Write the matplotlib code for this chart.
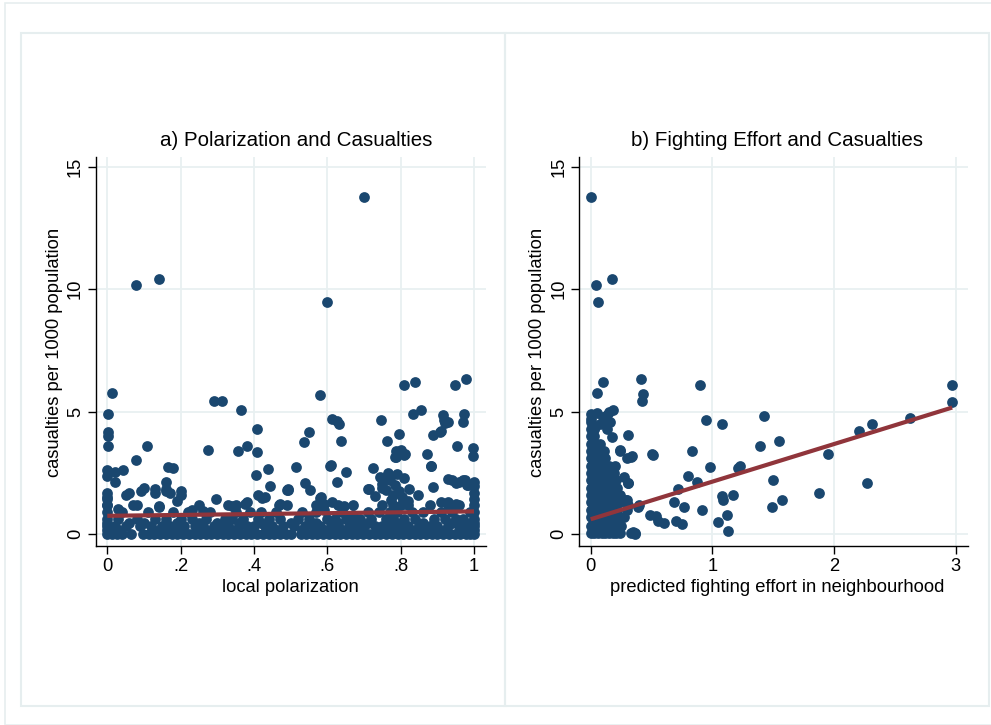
import matplotlib
matplotlib.use("Agg")
import matplotlib.pyplot as plt
from matplotlib.patches import Rectangle

plt.rcParams['font.family'] = ['Liberation Sans', 'DejaVu Sans']

NAVY = '#1a476f'
MAROON = '#90353b'
GRID = '#e8f0f1'
FRAME = '#e6eeef'

# ---- panel a: local polarization vs casualties ----
# scattered observations above the main band
pol_x = [0.700, 0.077, 0.141, 0.600, 0.014, 0.809, 0.839, 0.948, 0.978, 0.580, 0.291, 0.314,
         0.003, 0.003, 0.003, 0.003, 0.109, 0.077, 0.000, 0.021, 0.044, 0.021, 0.000,
         0.166, 0.178, 0.160, 0.274, 0.365, 0.407, 0.357, 0.380, 0.407, 0.405, 0.439, 0.514,
         0.444, 0.492, 0.539, 0.553, 0.537, 0.549, 0.614, 0.626, 0.633, 0.637, 0.607, 0.651, 0.626,
         0.580, 0.725, 0.712, 0.746, 0.762, 0.796, 0.787, 0.801, 0.812, 0.787, 0.834, 0.855,
         0.887, 0.907, 0.919, 0.916, 0.930, 0.873, 0.882, 0.887, 0.953, 0.969, 0.974, 0.998, 0.998,
         0.848, 0.824, 0.140, 0.130, 0.160, 0.100, 0.060, 0.050, 0.170, 0.200, 0.296, 0.380, 0.350,
         0.410, 0.430, 0.470, 0.570, 0.590, 0.630, 0.159, 0.092, 0.130, 0.000, 0.000, 0.000,
         0.190, 0.200, 0.030, 0.080, 0.140, 0.230, 0.260, 0.375, 0.421, 0.469, 0.339, 0.489,
         0.609, 0.493, 0.714, 0.748, 0.748, 0.582, 0.614, 0.646, 0.590, 0.670, 0.921, 0.910, 0.785,
         0.808, 0.883, 0.930, 0.950, 0.970, 0.980, 0.745, 0.750, 0.760, 0.770, 0.780, 0.785, 0.795,
         0.805, 0.765, 0.775, 0.810, 0.790, 0.940, 0.960, 0.975, 0.985, 0.930, 0.950, 0.910,
         1.000, 1.000, 1.000, 1.000, 0.000, 0.820, 0.730]
pol_y = [13.77, 10.18, 10.42, 9.47, 5.78, 6.07, 6.23, 6.11, 6.32, 5.68, 5.45, 5.43,
         4.89, 4.16, 4.00, 3.59, 3.59, 3.02, 2.61, 2.53, 2.61, 2.12, 2.36,
         2.75, 2.69, 2.12, 3.43, 5.05, 4.30, 3.39, 3.59, 3.36, 2.40, 2.66, 2.75,
         1.95, 1.82, 2.09, 1.82, 3.75, 4.18, 4.71, 4.61, 4.48, 3.80, 2.80, 2.54, 2.12,
         1.48, 2.70, 1.84, 4.66, 3.80, 4.07, 3.39, 3.45, 3.29, 3.15, 4.89, 5.07,
         4.03, 4.16, 4.66, 4.85, 4.57, 3.29, 2.80, 1.93, 3.62, 4.57, 4.92, 3.52, 3.21,
         1.61, 1.84, 1.15, 1.85, 1.85, 1.90, 1.70, 1.60, 1.70, 1.75, 1.45, 1.30, 1.20,
         1.60, 1.50, 1.25, 1.20, 1.25, 1.20, 1.78, 1.75, 1.68, 1.70, 1.50, 1.20,
         1.35, 1.58, 1.02, 1.20, 1.13, 1.00, 0.95, 1.24, 1.47, 1.20, 1.16, 1.82,
         2.81, 1.84, 1.86, 2.30, 1.90, 1.50, 1.30, 1.15, 1.00, 0.80, 4.55, 4.20, 3.16,
         3.25, 2.80, 2.25, 2.10, 2.20, 2.00, 2.35, 2.05, 1.80, 2.20, 1.60, 2.00, 1.75,
         1.50, 2.50, 1.40, 2.30, 2.45, 2.20, 2.15, 2.20, 2.00, 1.30, 1.25, 1.30,
         1.45, 1.70, 1.95, 2.15, 1.45, 1.35, 1.55]

# rows of the dense band near zero
pol_band_y0 = [0.0, 0.012, 0.026, 0.04, 0.066, 0.098, 0.113, 0.128, 0.145, 0.16, 0.176, 0.19,
               0.207, 0.222, 0.238, 0.252, 0.268, 0.284, 0.3, 0.315, 0.33, 0.346, 0.362, 0.377,
               0.392, 0.408, 0.424, 0.44, 0.455, 0.47, 0.487, 0.5, 0.527, 0.542, 0.558, 0.573,
               0.589, 0.604, 0.62, 0.636, 0.651, 0.667, 0.682, 0.698, 0.714, 0.729, 0.745, 0.76,
               0.776, 0.792, 0.807, 0.823, 0.838, 0.854, 0.87, 0.885, 0.9, 0.916, 0.932, 0.948,
               0.963, 0.978, 0.99, 1.0]
pol_band_y02 = [0.0, 0.03, 0.14, 0.18, 0.27, 0.34, 0.39, 0.46, 0.53, 0.59, 0.64, 0.69, 0.74,
                0.78, 0.84, 0.87, 0.92, 0.97, 1.0]
pol_band_y03 = [0.0, 0.02, 0.05, 0.09, 0.12, 0.15, 0.17, 0.19, 0.21, 0.24, 0.26, 0.29, 0.31,
                0.33, 0.36, 0.38, 0.40, 0.43, 0.45, 0.48, 0.51, 0.54, 0.56, 0.58, 0.61, 0.63,
                0.66, 0.68, 0.70, 0.73, 0.75, 0.77, 0.80, 0.82, 0.85, 0.88, 0.90, 0.93, 0.96,
                0.98, 1.0]
pol_band_y05 = [0.0, 0.06, 0.10, 0.19, 0.25, 0.30, 0.36, 0.42, 0.50, 0.57, 0.63, 0.67, 0.71,
                0.77, 0.79, 0.86, 0.94, 0.99, 1.0]
pol_band_y06 = [0.0, 0.03, 0.08, 0.13, 0.16, 0.2, 0.23, 0.27, 0.32, 0.34, 0.37, 0.41, 0.44,
                0.47, 0.52, 0.55, 0.60, 0.62, 0.65, 0.69, 0.72, 0.76, 0.78, 0.81, 0.84, 0.89,
                0.92, 0.95, 0.97, 1.0]
pol_band_y09 = [0.0, 0.04, 0.11, 0.18, 0.22, 0.28, 0.35, 0.39, 0.42, 0.46, 0.53, 0.57, 0.64,
                0.71, 0.74, 0.77, 0.79, 0.83, 0.86, 0.91, 0.94, 0.99, 1.0]
pol_band_y12 = [0.0, 0.07, 0.25, 0.33, 0.49, 0.67, 0.75, 0.78, 0.80, 0.82, 0.88, 0.93, 0.96, 1.0]
pol_band_levels = [0.02, 0.17, 0.32, 0.47, 0.62, 0.9, 1.18]

pol_fit_x = [0.0, 1.0]
pol_fit_y = [0.75, 0.93]

# ---- panel b: predicted fighting effort vs casualties ----
eff_x = [0.0025, 0.041, 0.173, 0.058, 0.099, 0.054, 0.416, 0.427, 0.419, 0.90, 2.97, 2.966,
         1.426, 0.947, 1.076, 2.624, 2.309, 2.202, 1.55, 1.391, 1.953, 0.83, 0.501, 0.98,
         1.227, 1.213, 0.797, 0.871, 1.496, 2.268, 0.72, 1.172, 1.076, 1.09, 1.878, 1.574,
         0.684, 0.769, 0.917, 1.492, 1.117, 1.048, 1.126, 0.70, 0.75, 0.605, 0.55, 0.54,
         0.49, 0.40, 0.35, 0.36, 0.183, 0.307, 0.178, 0.238, 0.329, 0.512, 0.307, 0.293,
         0.0, 0.0, 0.05, 0.10, 0.13, 0.15, 0.12, 0.08, 0.03, 0.24, 0.27, 0.31, 0.296,
         0.31, 0.39, 0.30, 0.337]
eff_y = [13.77, 10.19, 10.42, 9.47, 6.23, 5.78, 6.34, 5.71, 5.44, 6.07, 6.11, 5.39,
         4.82, 4.66, 4.48, 4.75, 4.51, 4.21, 3.80, 3.59, 3.29, 3.39, 3.29, 2.75,
         2.80, 2.70, 2.36, 2.12, 2.20, 2.09, 1.84, 1.61, 1.57, 1.38, 1.68, 1.41,
         1.30, 1.11, 1.00, 1.11, 0.79, 0.48, 0.15, 0.52, 0.42, 0.45, 0.55, 0.75,
         0.80, 1.20, 0.10, 0.00, 5.09, 4.03, 3.97, 3.45, 3.15, 3.25, 2.09, 1.41,
         4.90, 4.70, 4.95, 4.80, 4.85, 5.00, 4.60, 4.50, 4.30, 3.41, 2.35, 2.10, 1.41,
         1.20, 1.13, 3.11, 3.21]

# dense column near zero effort: x positions for each casualty level
eff_col_levels = [0.05, 0.35, 0.7, 1.0, 1.3, 1.6, 1.9, 2.2, 2.5, 2.8, 3.1, 3.4, 3.7, 4.0, 4.3, 4.6]
eff_col_rows = [
    [0.0, 0.03, 0.06, 0.09, 0.12, 0.15, 0.18, 0.21, 0.24, 0.33, 0.36],
    [0.0, 0.03, 0.06, 0.09, 0.12, 0.15, 0.18, 0.21, 0.25],
    [0.0, 0.04, 0.08, 0.11, 0.14, 0.17, 0.20, 0.24, 0.27],
    [0.0, 0.03, 0.07, 0.10, 0.13, 0.16, 0.19, 0.22, 0.30],
    [0.0, 0.04, 0.08, 0.11, 0.15, 0.18, 0.21, 0.24],
    [0.0, 0.03, 0.06, 0.10, 0.13, 0.17, 0.20, 0.24],
    [0.0, 0.04, 0.07, 0.11, 0.14, 0.18, 0.22],
    [0.0, 0.03, 0.07, 0.10, 0.14, 0.17, 0.21],
    [0.0, 0.04, 0.08, 0.12, 0.16, 0.19],
    [0.0, 0.03, 0.07, 0.11, 0.15, 0.20],
    [0.0, 0.04, 0.08, 0.12],
    [0.0, 0.03, 0.06, 0.11],
    [0.0, 0.04, 0.08],
    [0.0, 0.03],
    [0.0, 0.03, 0.13],
    [0.0, 0.12, 0.16],
]

eff_fit_x = [0.0, 2.97]
eff_fit_y = [0.61, 5.17]

y_ticks = [0, 5, 10, 15]
pol_ticks = [0, 0.2, 0.4, 0.6, 0.8, 1.0]
pol_tick_labels = ['0', '.2', '.4', '.6', '.8', '1']
eff_ticks = [0, 1, 2, 3]

LABEL_SIZE = 13.2
TITLE_SIZE = 14.8


def style_axis(ax):
    ax.set_facecolor('white')
    for side in ['top', 'right']:
        ax.spines[side].set_visible(False)
    for side in ['left', 'bottom']:
        ax.spines[side].set_color('black')
        ax.spines[side].set_linewidth(1.0)
    ax.grid(True, color=GRID, linewidth=1.3)
    ax.set_axisbelow(True)
    ax.tick_params(axis='both', direction='out', length=5.5, width=1.0,
                   labelsize=LABEL_SIZE, pad=3, colors='black')
    ax.tick_params(axis='y', labelrotation=90)
    for lab in ax.get_yticklabels():
        lab.set_va('center')
    ax.set_yticks(y_ticks)
    ax.set_ylim(-0.47, 15.41)


W, H = 991, 725
fig = plt.figure(figsize=(W / 100, H / 100), dpi=100)
fig.patch.set_facecolor('white')

# panel frames
fig.add_artist(Rectangle((5 / W, 0), 1, 1 - 3 / H, transform=fig.transFigure,
                         fill=False, edgecolor=FRAME, linewidth=1.2))
for left in (21, 505):
    fig.add_artist(Rectangle((left / W, 1 - 706 / H), 484 / W, 673 / H,
                             transform=fig.transFigure, fill=False,
                             edgecolor=FRAME, linewidth=1.5))

ax1 = fig.add_axes([95.7 / W, 1 - 545.7 / H, (486 - 95.7) / W, (545.7 - 156.7) / H])
ax2 = fig.add_axes([579 / W, 1 - 545.7 / H, (968 - 579) / W, (545.7 - 156.7) / H])

ms = 60

# panel a
bx, by = [], []
for lvl, row in zip(pol_band_levels, [pol_band_y0, pol_band_y02, pol_band_y03, pol_band_y05,
                                      pol_band_y06, pol_band_y09, pol_band_y12]):
    bx += row
    by += [lvl] * len(row)
ax1.scatter(bx, by, s=ms, color=NAVY, linewidths=0, zorder=3)
ax1.scatter(pol_x, pol_y, s=ms, color=NAVY, linewidths=0, zorder=3)
ax1.plot(pol_fit_x, pol_fit_y, color=MAROON, linewidth=3.0, zorder=4,
         solid_capstyle='butt')
style_axis(ax1)
ax1.set_xlim(-0.0316, 1.0328)
ax1.set_xticks(pol_ticks)
ax1.set_xticklabels(pol_tick_labels)

# panel b
cx, cy = [], []
for lvl, row in zip(eff_col_levels, eff_col_rows):
    cx += row
    cy += [lvl] * len(row)
ax2.scatter(cx, cy, s=ms, color=NAVY, linewidths=0, zorder=3)
ax2.scatter(eff_x, eff_y, s=ms, color=NAVY, linewidths=0, zorder=3)
ax2.plot(eff_fit_x, eff_fit_y, color=MAROON, linewidth=3.0, zorder=4,
         solid_capstyle='butt')
style_axis(ax2)
ax2.set_xlim(-0.096, 3.1)
ax2.set_xticks(eff_ticks)
ax2.set_xticklabels([str(t) for t in eff_ticks])

# titles and axis titles
fig.text(296.5 / W, 1 - 140 / H, 'a) Polarization and Casualties', ha='center',
         va='center', fontsize=TITLE_SIZE)
fig.text(777 / W, 1 - 140 / H, 'b) Fighting Effort and Casualties', ha='center',
         va='center', fontsize=TITLE_SIZE)
fig.text(55 / W, 1 - 352 / H, 'casualties per 1000 population', rotation=90,
         ha='center', va='center', fontsize=LABEL_SIZE)
fig.text(537 / W, 1 - 352 / H, 'casualties per 1000 population', rotation=90,
         ha='center', va='center', fontsize=LABEL_SIZE)
fig.text(290 / W, 1 - 587 / H, 'local polarization', ha='center', va='center',
         fontsize=LABEL_SIZE)
fig.text(777 / W, 1 - 587 / H, 'predicted fighting effort in neighbourhood',
         ha='center', va='center', fontsize=LABEL_SIZE)

fig.savefig('out.png', dpi=100)
